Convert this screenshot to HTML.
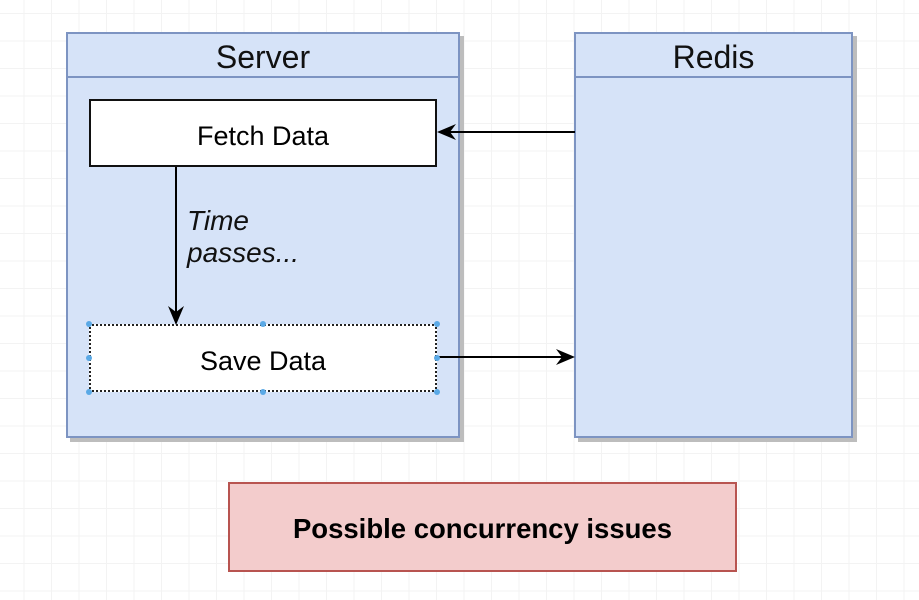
<!DOCTYPE html>
<html><head><style>
body{margin:0;width:919px;height:600px;overflow:hidden;background:#fff;
background-image:linear-gradient(#f3f3f3 1px,transparent 1px),linear-gradient(90deg,#f3f3f3 1px,transparent 1px);background-size:27.5px 27.5px;background-position:-4px 13px;font-family:"Liberation Sans",sans-serif}
.a{position:absolute;box-sizing:border-box}
</style></head><body>
<div class="a" style="left:66px;top:32px;width:394px;height:406px;background:#d6e3f8;border:2px solid #7d94c2;box-shadow:4px 4px 0 #bdbdbd"></div>
<div class="a" style="left:66px;top:76px;width:394px;height:2px;background:#7d94c2"></div>
<div class="a" style="left:66px;top:39px;width:394px;text-align:center;font-size:32px;color:#111">Server</div>
<div class="a" style="left:574px;top:32px;width:279px;height:406px;background:#d6e3f8;border:2px solid #7d94c2;box-shadow:4px 4px 0 #bdbdbd"></div>
<div class="a" style="left:574px;top:76px;width:279px;height:2px;background:#7d94c2"></div>
<div class="a" style="left:574px;top:39px;width:279px;text-align:center;font-size:32px;color:#111">Redis</div>
<div class="a" style="left:89px;top:99px;width:348px;height:68px;background:#fff;border:2px solid #111;text-align:center;line-height:70px;font-size:27px">Fetch Data</div>
<div class="a" style="left:89px;top:324px;width:348px;height:68px;background:#fff;border:2px dotted #222;text-align:center;line-height:70px;font-size:27px">Save Data</div>
<div class="a" style="left:187px;top:205px;font-size:28px;font-style:italic;line-height:32px;color:#111">Time<br>passes...</div>
<svg class="a" style="left:0;top:0" width="919" height="600">
<line x1="575" y1="132" x2="450" y2="132" stroke="#000" stroke-width="2"/>
<polygon points="437,132 456,124 450,132 456,140" fill="#000"/>
<line x1="176" y1="167" x2="176" y2="312" stroke="#000" stroke-width="2"/>
<polygon points="176,325 168,306 176,312 184,306" fill="#000"/>
<line x1="437" y1="357" x2="562" y2="357" stroke="#000" stroke-width="2"/>
<polygon points="575,357 556,349 562,357 556,365" fill="#000"/>
<g fill="#5aa9e6"><circle cx="89" cy="324" r="3"/><circle cx="263" cy="324" r="3"/><circle cx="437" cy="324" r="3"/><circle cx="89" cy="358" r="3"/><circle cx="437" cy="358" r="3"/><circle cx="89" cy="392" r="3"/><circle cx="263" cy="392" r="3"/><circle cx="437" cy="392" r="3"/></g>
</svg>
<div class="a" style="left:228px;top:482px;width:509px;height:90px;background:#f3cccc;border:2px solid #b85450;text-align:center;line-height:90px;font-size:27.5px;font-weight:bold">Possible concurrency issues</div>
</body></html>
